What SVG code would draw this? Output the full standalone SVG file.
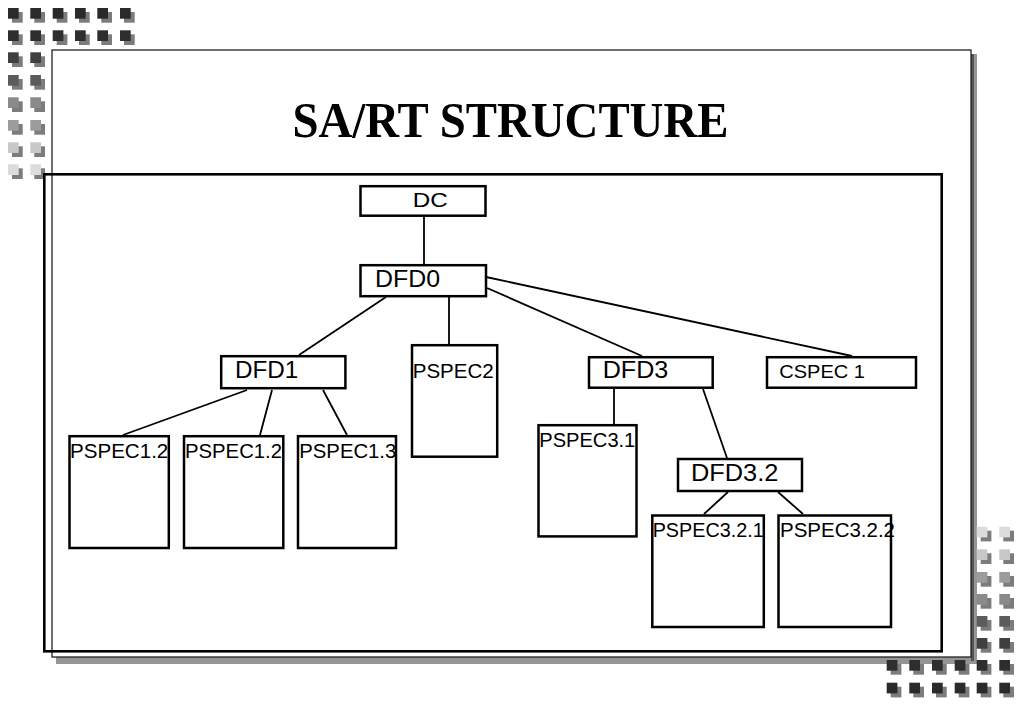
<svg xmlns="http://www.w3.org/2000/svg" width="1023" height="708" viewBox="0 0 1023 708">
<style>
.box{fill:#fff;stroke:#000;stroke-width:2.5}
.lbl{font-family:"Liberation Sans",Arial,sans-serif;fill:#000}
.big{font-size:24px}
.sm{font-size:19.5px}
.con line{stroke:#000;stroke-width:1.8}
.d{stroke:none}
</style>
<defs>
<rect id="sh" width="10.7" height="10.7" fill="#7c7c7c"/>
<rect id="sq" width="10.7" height="10.7"/>
</defs>
<rect width="1023" height="708" fill="#fff"/>
<!-- top-left decoration -->
<g id="deco-tl">
<g fill="#2a2a2a">
<use href="#sh" x="12" y="12"/><use href="#sq" x="8" y="8"/>
<use href="#sh" x="34.3" y="12"/><use href="#sq" x="30.3" y="8"/>
<use href="#sh" x="56.7" y="12"/><use href="#sq" x="52.7" y="8"/>
<use href="#sh" x="79" y="12"/><use href="#sq" x="75" y="8"/>
<use href="#sh" x="101.3" y="12"/><use href="#sq" x="97.3" y="8"/>
<use href="#sh" x="124" y="12"/><use href="#sq" x="120" y="8"/>
</g>
<g fill="#2e2e2e">
<use href="#sh" x="12" y="34.3"/><use href="#sq" x="8" y="30.3"/>
<use href="#sh" x="34.3" y="34.3"/><use href="#sq" x="30.3" y="30.3"/>
<use href="#sh" x="56.7" y="34.3"/><use href="#sq" x="52.7" y="30.3"/>
<use href="#sh" x="79" y="34.3"/><use href="#sq" x="75" y="30.3"/>
<use href="#sh" x="101.3" y="34.3"/><use href="#sq" x="97.3" y="30.3"/>
<use href="#sh" x="124" y="34.3"/><use href="#sq" x="120" y="30.3"/>
</g>
<g fill="#404040"><use href="#sh" x="12" y="56.3"/><use href="#sq" x="8" y="52.3"/><use href="#sh" x="34.3" y="56.3"/><use href="#sq" x="30.3" y="52.3"/></g>
<g fill="#5c5c5c"><use href="#sh" x="12" y="79"/><use href="#sq" x="8" y="75"/><use href="#sh" x="34.3" y="79"/><use href="#sq" x="30.3" y="75"/></g>
<g fill="#8a8a8a"><use href="#sh" x="12" y="101.3"/><use href="#sq" x="8" y="97.3"/><use href="#sh" x="34.3" y="101.3"/><use href="#sq" x="30.3" y="97.3"/></g>
<g fill="#9c9c9c"><use href="#sh" x="12" y="124"/><use href="#sq" x="8" y="120"/><use href="#sh" x="34.3" y="124"/><use href="#sq" x="30.3" y="120"/></g>
<g fill="#c8c8c8"><use href="#sh" x="12" y="146.3"/><use href="#sq" x="8" y="142.3"/><use href="#sh" x="34.3" y="146.3"/><use href="#sq" x="30.3" y="142.3"/></g>
<g fill="#dcdcdc"><use href="#sh" x="12" y="168.3"/><use href="#sq" x="8" y="164.3"/><use href="#sh" x="34.3" y="168.3"/><use href="#sq" x="30.3" y="164.3"/></g>
</g>
<!-- slide -->
<g id="slide">
<rect x="56" y="54" width="921" height="610" fill="#959595"/>
<rect x="971" y="54" width="3" height="607" fill="#555"/>
<rect x="52" y="50" width="919" height="607" fill="#fff" stroke="#222" stroke-width="1.3"/>
<rect x="44.3" y="174.3" width="897.4" height="477" fill="none" stroke="#000" stroke-width="2.6"/>
</g>
<!-- bottom-right decoration -->
<g id="deco-br">
<g fill="#dcdcdc"><use href="#sh" x="980.7" y="530.7"/><use href="#sq" x="976.7" y="526.7"/><use href="#sh" x="1003.3" y="530.7"/><use href="#sq" x="999.3" y="526.7"/></g>
<g fill="#c8c8c8"><use href="#sh" x="980.7" y="553.3"/><use href="#sq" x="976.7" y="549.3"/><use href="#sh" x="1003.3" y="553.3"/><use href="#sq" x="999.3" y="549.3"/></g>
<g fill="#9c9c9c"><use href="#sh" x="980.7" y="576"/><use href="#sq" x="976.7" y="572"/><use href="#sh" x="1003.3" y="576"/><use href="#sq" x="999.3" y="572"/></g>
<g fill="#8a8a8a"><use href="#sh" x="980.7" y="598"/><use href="#sq" x="976.7" y="594"/><use href="#sh" x="1003.3" y="598"/><use href="#sq" x="999.3" y="594"/></g>
<g fill="#5c5c5c"><use href="#sh" x="980.7" y="620"/><use href="#sq" x="976.7" y="616"/><use href="#sh" x="1003.3" y="620"/><use href="#sq" x="999.3" y="616"/></g>
<g fill="#404040"><use href="#sh" x="980.7" y="642"/><use href="#sq" x="976.7" y="638"/><use href="#sh" x="1003.3" y="642"/><use href="#sq" x="999.3" y="638"/></g>
<g fill="#2e2e2e">
<use href="#sh" x="890.7" y="664"/><use href="#sq" x="886.7" y="660"/>
<use href="#sh" x="913.3" y="664"/><use href="#sq" x="909.3" y="660"/>
<use href="#sh" x="936" y="664"/><use href="#sq" x="932" y="660"/>
<use href="#sh" x="958.7" y="664"/><use href="#sq" x="954.7" y="660"/>
<use href="#sh" x="980.7" y="664"/><use href="#sq" x="976.7" y="660"/>
<use href="#sh" x="1003.3" y="664"/><use href="#sq" x="999.3" y="660"/>
</g>
<g fill="#2a2a2a">
<use href="#sh" x="890.7" y="686.7"/><use href="#sq" x="886.7" y="682.7"/>
<use href="#sh" x="913.3" y="686.7"/><use href="#sq" x="909.3" y="682.7"/>
<use href="#sh" x="936" y="686.7"/><use href="#sq" x="932" y="682.7"/>
<use href="#sh" x="958.7" y="686.7"/><use href="#sq" x="954.7" y="682.7"/>
<use href="#sh" x="980.7" y="686.7"/><use href="#sq" x="976.7" y="682.7"/>
<use href="#sh" x="1003.3" y="686.7"/><use href="#sq" x="999.3" y="682.7"/>
</g>
</g>
<!-- title -->
<text id="title" x="510.5" y="136.7" text-anchor="middle" font-family="'Liberation Serif','Times New Roman',serif" font-weight="bold" font-size="50" textLength="436" lengthAdjust="spacingAndGlyphs">SA/RT STRUCTURE</text>
<!-- connectors -->
<g class="con" id="connectors">
<line x1="424" y1="217" x2="424" y2="265"/>
<line x1="386" y1="297" x2="299" y2="355"/>
<line x1="449" y1="297" x2="449" y2="344"/>
<line x1="487" y1="288" x2="642" y2="356"/>
<line x1="486" y1="277" x2="852" y2="356"/>
<line x1="247" y1="390" x2="123" y2="435"/>
<line x1="272" y1="390" x2="260" y2="435"/>
<line x1="323" y1="390" x2="347" y2="435"/>
<line x1="614" y1="389" x2="614" y2="424"/>
<line x1="703" y1="389" x2="727" y2="458"/>
<line x1="728" y1="492" x2="704" y2="514"/>
<line x1="778" y1="492" x2="803" y2="514"/>
</g>
<!-- nodes -->
<g id="DC"><rect class="box" x="360.5" y="186.2" width="125" height="29.5"/><text class="lbl" x="412.7" y="207.3" font-size="21" textLength="35" lengthAdjust="spacingAndGlyphs">DC</text></g>
<g id="DFD0"><rect class="box" x="360.5" y="265.2" width="125.5" height="31"/><text class="lbl big" x="375" y="286.7" textLength="65" lengthAdjust="spacingAndGlyphs">DFD0</text></g>
<g id="DFD1"><rect class="box" x="221.2" y="356.2" width="124.2" height="32"/><text class="lbl big" x="235" y="378.3" textLength="63.3" lengthAdjust="spacingAndGlyphs">DFD1</text></g>
<g id="PSPEC2"><rect class="box" x="412" y="345.2" width="85.2" height="111.5"/><text class="lbl sm" x="412.7" y="378.3" textLength="81" lengthAdjust="spacingAndGlyphs">PSPEC2</text></g>
<g id="DFD3"><rect class="box" x="589" y="357.2" width="123.7" height="30.5"/><text class="lbl big" x="602.7" y="378.3" textLength="65.6" lengthAdjust="spacingAndGlyphs">DFD3</text></g>
<g id="CSPEC1"><rect class="box" x="767" y="357.2" width="149" height="30.5"/><text class="lbl" x="779.3" y="378.3" font-size="19" textLength="85.7" lengthAdjust="spacingAndGlyphs">CSPEC 1</text></g>
<g id="PSPEC1.2a"><rect class="box" x="69.5" y="436.2" width="99.3" height="111.8"/><text class="lbl sm" x="70" y="458.3" textLength="98.3" lengthAdjust="spacingAndGlyphs">PSPEC1.2</text></g>
<g id="PSPEC1.2b"><rect class="box" x="184" y="436.2" width="99.3" height="111.8"/><text class="lbl sm" x="185" y="458.3" textLength="97" lengthAdjust="spacingAndGlyphs">PSPEC1.2</text></g>
<g id="PSPEC1.3"><rect class="box" x="298" y="436.2" width="98" height="111.8"/><text class="lbl sm" x="299.3" y="458.3" textLength="97" lengthAdjust="spacingAndGlyphs">PSPEC1.3</text></g>
<g id="PSPEC3.1"><rect class="box" x="538.5" y="425.2" width="98" height="111.2"/><text class="lbl sm" x="539.3" y="446.7" textLength="96" lengthAdjust="spacingAndGlyphs">PSPEC3.1</text></g>
<g id="DFD3.2"><rect class="box" x="678" y="459" width="124" height="32"/><text class="lbl big" x="691" y="480.7" textLength="87.3" lengthAdjust="spacingAndGlyphs">DFD3.2</text></g>
<g id="PSPEC3.2.1"><rect class="box" x="652.3" y="515.5" width="111.5" height="111.5"/><text class="lbl sm" x="652.7" y="536.7" textLength="111" lengthAdjust="spacingAndGlyphs">PSPEC3.2.1</text></g>
<g id="PSPEC3.2.2"><rect class="box" x="778.5" y="515.5" width="112.5" height="111.5"/><text class="lbl sm" x="780" y="536.7" textLength="115" lengthAdjust="spacingAndGlyphs">PSPEC3.2.2</text></g>
</svg>
